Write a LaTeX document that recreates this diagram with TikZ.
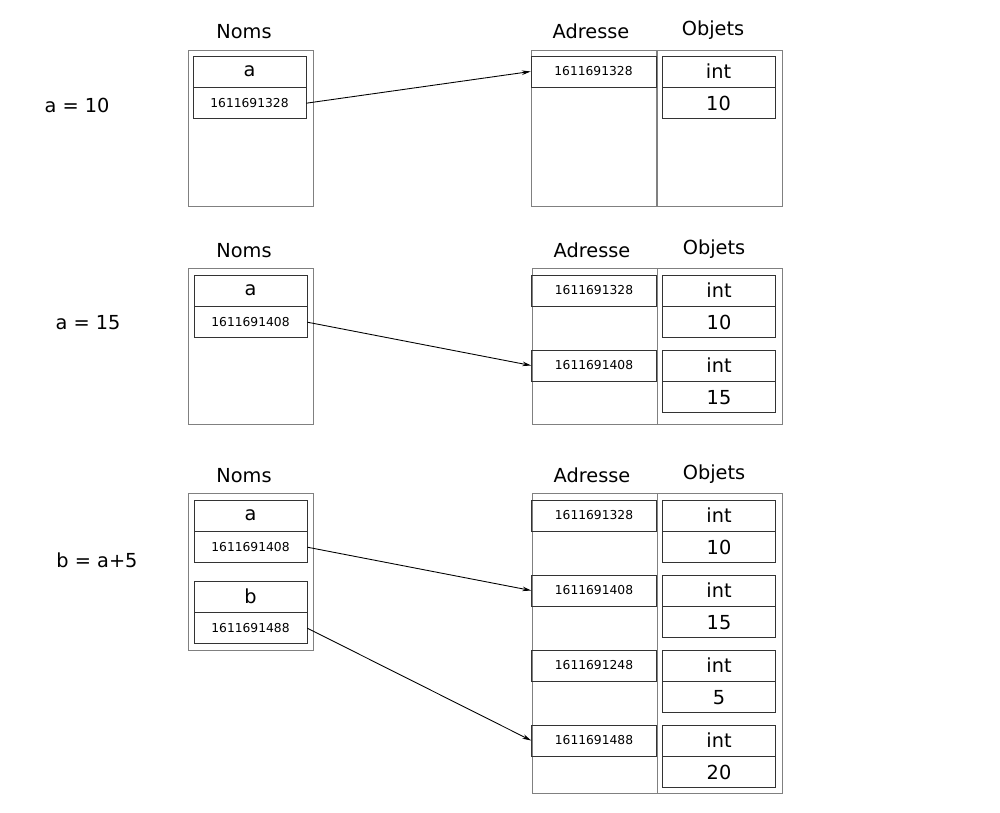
\documentclass[tikz,border=0pt]{standalone}
\usepackage{fontspec}
\setmainfont{DejaVu Sans}
\usetikzlibrary{arrows.meta,positioning}

\begin{document}
\begin{tikzpicture}[x=0.02cm, y=-0.02cm, >={Stealth[length=5pt,width=2.6pt]},
    frame/.style={rectangle, draw=black!50, minimum width=2.5cm, inner sep=0pt},
    cell/.style={rectangle, draw=black!80, minimum width=2.26cm, minimum height=0.62cm, inner sep=0pt, font=\fontsize{11}{13}\selectfont},
    num/.style={cell, font=\fontsize{7}{9}\selectfont},
    slot/.style={num, minimum width=2.5cm},
    title/.style={font=\fontsize{11}{13}\selectfont},
    ar/.style={->, line width=0.5pt}]
    \useasboundingbox (0,0) rectangle (1000,813);
    % a = 10
    \node [title] (cmd1) at (77,105) {a = 10};
    \node [title] (tn1) at (244,32) {Noms};
    \node [title] (ta1) at (591,31) {Adresse};
    \node [title] (to1) at (713,30) {Objets};
    \node [frame, minimum height=3.12cm] (noms1) at (250.5,128) {};
    \node [frame, minimum height=3.12cm] (adr1) at (594,128) {};
    \node [frame, minimum height=3.12cm] (obj1) at (719.5,128) {};
    \node [cell] (na1) at (249.5,71.5) {a};
    \node [num, below=0pt of na1] (va1) {1611691328};
    \node [slot] (s11) at (593.5,71.5) {1611691328};
    \node [cell] (t11) at (718.5,71.5) {int};
    \node [cell, below=0pt of t11] (o11) {10};
    \draw [ar] (va1.east) -- (s11.west);
    % a = 15
    \node [title] (cmd2) at (88,323) {a = 15};
    \node [title] (tn2) at (244,251) {Noms};
    \node [title] (ta2) at (592,250) {Adresse};
    \node [title] (to2) at (714,249) {Objets};
    \node [frame, minimum height=3.12cm] (noms2) at (251,346) {};
    \node [frame, minimum height=3.12cm] (adr2) at (594.5,346) {};
    \node [frame, minimum height=3.12cm] (obj2) at (719.5,346) {};
    \node [cell] (na2) at (250.5,290.5) {a};
    \node [num, below=0pt of na2] (va2) {1611691408};
    \node [slot] (s21) at (594,290.5) {1611691328};
    \node [slot] (s22) at (594,365.5) {1611691408};
    \node [cell] (t21) at (719,290.5) {int};
    \node [cell, below=0pt of t21] (o21) {10};
    \node [cell] (t22) at (719,365.5) {int};
    \node [cell, below=0pt of t22] (o22) {15};
    \draw [ar] (va2.east) -- (s22.west);
    % b = a+5
    \node [title] (cmd3) at (97,560) {b = a+5};
    \node [title] (tn3) at (244,476) {Noms};
    \node [title] (ta3) at (592,475) {Adresse};
    \node [title] (to3) at (714,474) {Objets};
    \node [frame, minimum height=3.14cm] (noms3) at (251,571.5) {};
    \node [frame, minimum height=6cm] (adr3) at (594.5,643) {};
    \node [frame, minimum height=6cm] (obj3) at (719.5,643) {};
    \node [cell] (na3) at (250.5,515.5) {a};
    \node [num, below=0pt of na3] (va3) {1611691408};
    \node [cell] (nb3) at (250.5,596.5) {b};
    \node [num, below=0pt of nb3] (vb3) {1611691488};
    \node [slot] (s31) at (594,515.5) {1611691328};
    \node [slot] (s32) at (594,590.5) {1611691408};
    \node [slot] (s33) at (594,665.5) {1611691248};
    \node [slot] (s34) at (594,740.5) {1611691488};
    \node [cell] (t31) at (719,515.5) {int};
    \node [cell, below=0pt of t31] (o31) {10};
    \node [cell] (t32) at (719,590.5) {int};
    \node [cell, below=0pt of t32] (o32) {15};
    \node [cell] (t33) at (719,665.5) {int};
    \node [cell, below=0pt of t33] (o33) {5};
    \node [cell] (t34) at (719,740.5) {int};
    \node [cell, below=0pt of t34] (o34) {20};
    \draw [ar] (va3.east) -- (s32.west);
    \draw [ar] (vb3.east) -- (s34.west);
\end{tikzpicture}
\end{document}
